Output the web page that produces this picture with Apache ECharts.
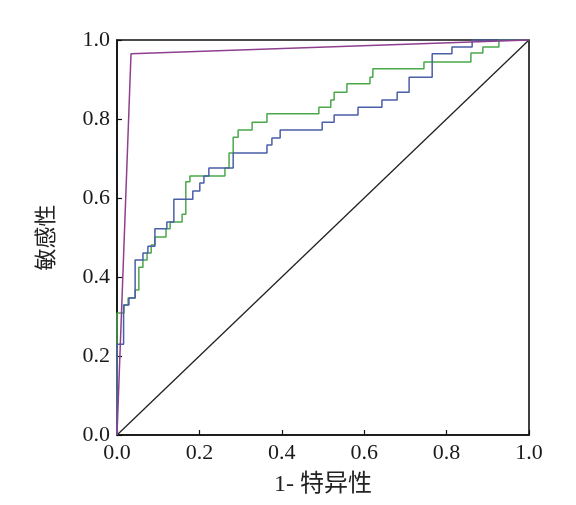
<!DOCTYPE html>
<html>
<head>
<meta charset="utf-8">
<script src="https://cdn.jsdelivr.net/npm/echarts@6/dist/echarts.min.js"></script>
<style>
  html, body { margin: 0; padding: 0; background: #fff; }
  #rocChart { width: 576px; height: 505px; }
</style>
</head>
<body>
<div id="rocChart"></div>
<script>
// ROC corners: x where the curve steps up, y at the top of that step
const blueFpr = [0, 0, 0.016, 0.029, 0.044, 0.063, 0.075, 0.092, 0.121, 0.138, 0.184, 0.201, 0.211, 0.223, 0.282, 0.364, 0.376, 0.396, 0.498, 0.527, 0.585, 0.643, 0.680, 0.709, 0.765, 0.813, 0.862, 1]
const blueTpr = [0, 0.230, 0.329, 0.347, 0.443, 0.461, 0.478, 0.522, 0.539, 0.597, 0.618, 0.638, 0.656, 0.676, 0.714, 0.734, 0.752, 0.772, 0.792, 0.810, 0.830, 0.848, 0.868, 0.906, 0.965, 0.982, 1, 1]

const greenFpr = [0, 0, 0.017, 0.027, 0.044, 0.053, 0.063, 0.073, 0.083, 0.092, 0.119, 0.129, 0.158, 0.167, 0.177, 0.262, 0.272, 0.282, 0.294, 0.328, 0.364, 0.490, 0.519, 0.527, 0.558, 0.614, 0.621, 0.745, 0.859, 0.888, 0.927, 1]
const greenTpr = [0, 0.309, 0.329, 0.347, 0.367, 0.425, 0.443, 0.461, 0.481, 0.501, 0.522, 0.539, 0.559, 0.641, 0.656, 0.676, 0.714, 0.754, 0.772, 0.792, 0.813, 0.830, 0.848, 0.868, 0.889, 0.906, 0.927, 0.944, 0.967, 0.982, 1, 1]

const purpleFpr = [0, 0.034, 1]
const purpleTpr = [0, 0.965, 1]

const refFpr = [0, 1]
const refTpr = [0, 1]

const axisTicks = [0, 0.2, 0.4, 0.6, 0.8, 1.0]

const zip = (xs, ys) => xs.map((x, i) => [x, ys[i]])

const labelFont = "'Liberation Serif', 'Noto Sans CJK SC', serif"

function makeAxis(name, gap, nameSize) {
    return {
        type: 'value',
        min: axisTicks[0],
        max: axisTicks[axisTicks.length - 1],
        interval: 0.2,
        name: name,
        nameLocation: 'middle',
        nameGap: gap,
        nameTextStyle: { color: '#222', fontSize: nameSize, fontFamily: labelFont },
        axisLine: { show: true, onZero: false, lineStyle: { color: '#111', width: 1.6 } },
        axisTick: { show: true, inside: true, length: 5, lineStyle: { color: '#111', width: 1.2 } },
        axisLabel: {
            color: '#1a1a1a',
            fontSize: 22,
            fontFamily: labelFont,
            margin: 7,
            formatter: v => v.toFixed(1)
        },
        splitLine: { show: false }
    }
}

const option = {
    animation: false,
    backgroundColor: '#fff',
    grid: {
        left: 117, right: 47, top: 40, bottom: 70,
        show: true, borderColor: '#111', borderWidth: 1.6
    },
    xAxis: makeAxis('1- 特异性', 38, 24),
    yAxis: makeAxis('敏感性', 59, 22),
    series: [{
        name: 'ref',
        type: 'line',
        data: zip(refFpr, refTpr),
        symbol: 'none',
        lineStyle: { color: '#222', width: 1.3 }
    }, {
        name: 'green',
        type: 'line',
        step: 'end',
        data: zip(greenFpr, greenTpr),
        symbol: 'none',
        lineStyle: { color: '#4aa84a', width: 1.5 }
    }, {
        name: 'blue',
        type: 'line',
        step: 'end',
        data: zip(blueFpr, blueTpr),
        symbol: 'none',
        lineStyle: { color: '#4b5ea8', width: 1.5 }
    }, {
        name: 'purple',
        type: 'line',
        data: zip(purpleFpr, purpleTpr),
        symbol: 'none',
        lineStyle: { color: '#8e3f8e', width: 1.5 }
    }]
}

const rocChart = echarts.init(document.getElementById('rocChart'))
rocChart.setOption(option)
</script>
</body>
</html>
